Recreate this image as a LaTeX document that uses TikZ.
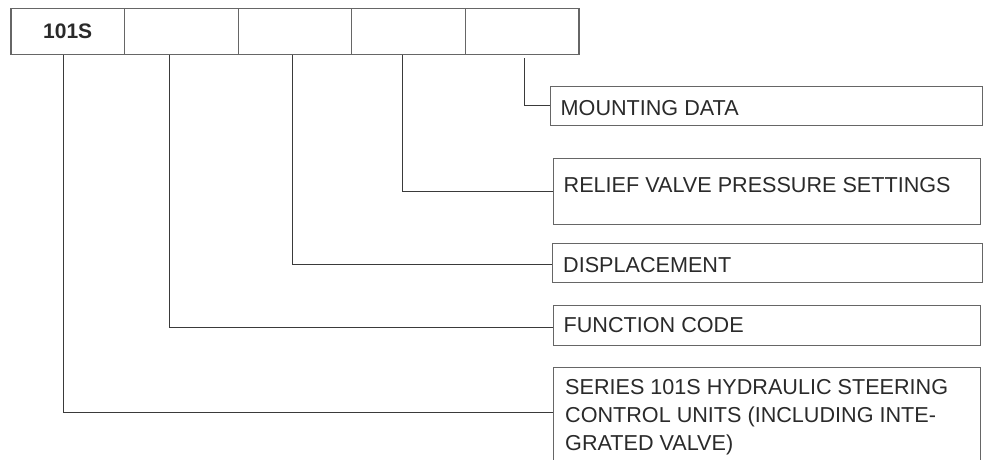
\documentclass[tikz,border=0pt]{standalone}
\usepackage{fontspec}
\setmainfont{Liberation Sans}
\definecolor{txt}{HTML}{2A2A2A}
\definecolor{conn}{HTML}{3A3A3A}
\definecolor{edge}{HTML}{666666}
\begin{document}
\begin{tikzpicture}[x=1pt,y=-1pt,
  cell/.style={draw=edge,line width=1.2pt,minimum width=113.6pt,minimum height=45.5pt,inner sep=0pt,anchor=north west,text=txt,font=\bfseries\fontsize{21}{25}\selectfont},
  infobox/.style={draw=edge,line width=1.1pt,inner sep=0pt,anchor=north west},
  lbl/.style={inner sep=0pt,anchor=base west,text=txt,font=\fontsize{21.6}{28}\selectfont,align=left},
  conn/.style={draw=conn,line width=1.3pt}]
\useasboundingbox (0,0) rectangle (985,459);
\clip (0,0) rectangle (985,459);
\fill[white] (0,0) rectangle (985,459);
% top row
\node[cell] (c1) at (10.3,8) {101S};
\node[cell] (c2) at (123.9,8) {};
\node[cell] (c3) at (237.5,8) {};
\node[cell] (c4) at (351.1,8) {};
\node[cell] (c5) at (464.7,8) {};
% right boxes
\node[infobox,minimum width=432pt,minimum height=39pt] (mount) at (550,86) {};
\node[infobox,minimum width=427pt,minimum height=66pt] (relief) at (553,158) {};
\node[infobox,minimum width=430pt,minimum height=39pt] (disp) at (552,243) {};
\node[infobox,minimum width=427pt,minimum height=39.5pt] (func) at (553,305) {};
\node[infobox,minimum width=427pt,minimum height=120pt] (series) at (553,367) {};
% labels
\node[lbl] (tmount) at (560.5,115) {MOUNTING DATA};
\node[lbl] (trelief) at (563.5,192) {RELIEF VALVE PRESSURE SETTINGS};
\node[lbl] (tdisp) at (563,272) {DISPLACEMENT};
\node[lbl] (tfunc) at (563.5,332.5) {FUNCTION CODE};
\node[lbl,anchor=north west] (tseries) at (565,379) {SERIES 101S HYDRAULIC STEERING\\CONTROL UNITS (INCLUDING INTE-\\GRATED VALVE)};
% connectors
\draw[conn] ([xshift=2.5pt,yshift=-3.5pt]c5.south) |- ([yshift=-19.7pt]mount.north west);
\draw[conn] ([xshift=-5.8pt]c4.south) |- ([yshift=-33.7pt]relief.north west);
\draw[conn] ([xshift=-2.6pt]c3.south) |- ([yshift=-21.2pt]disp.north west);
\draw[conn] ([xshift=-12.1pt]c2.south) |- ([yshift=-22.3pt]func.north west);
\draw[conn] ([xshift=-4.2pt]c1.south) |- ([yshift=-45.5pt]series.north west);
\end{tikzpicture}
\end{document}
